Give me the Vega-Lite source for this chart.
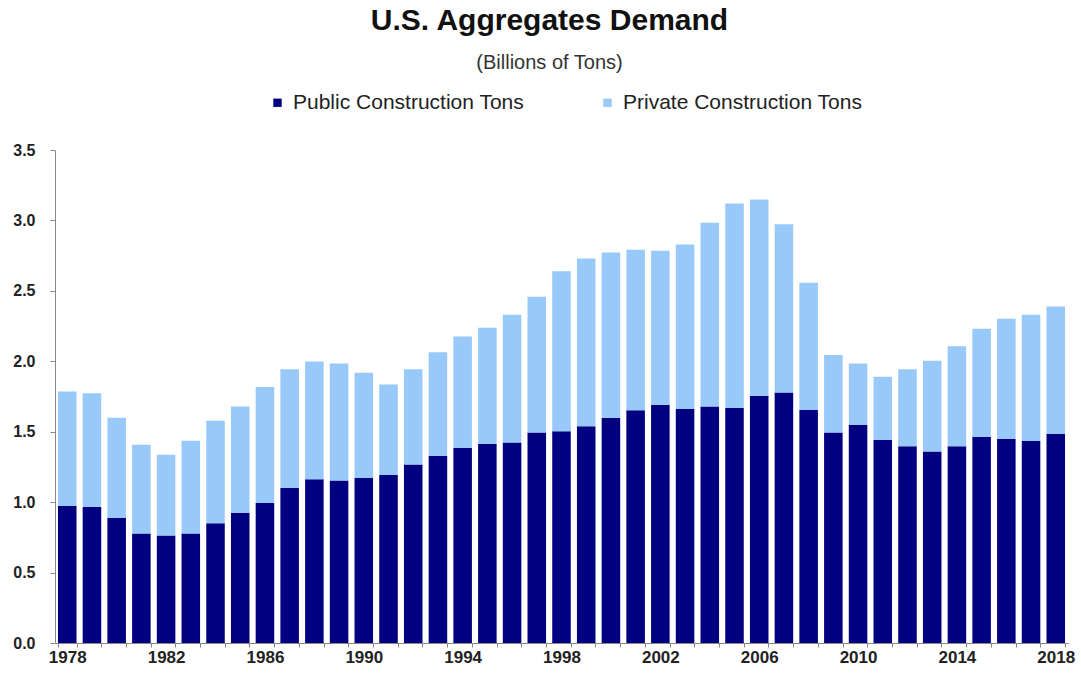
{
  "$schema": "https://vega.github.io/schema/vega-lite/v6.json",
  "width": 1013,
  "height": 493,
  "autosize": "none",
  "padding": {"left": 55, "top": 150, "right": 13, "bottom": 34},
  "background": "white",
  "title": {
    "text": "U.S. Aggregates Demand",
    "subtitle": "(Billions of Tons)",
    "anchor": "middle",
    "dx": -12,
    "font": "Liberation Sans",
    "fontSize": 30,
    "fontWeight": "bold",
    "color": "#111111",
    "subtitleFont": "Liberation Sans",
    "subtitleFontSize": 20,
    "subtitleColor": "#333333",
    "subtitlePadding": 17,
    "offset": 19
  },
  "data": {
    "values": [
      {"year": 1978, "type": "Public Construction Tons", "value": 0.975},
      {"year": 1978, "type": "Private Construction Tons", "value": 0.811},
      {"year": 1979, "type": "Public Construction Tons", "value": 0.965},
      {"year": 1979, "type": "Private Construction Tons", "value": 0.808},
      {"year": 1980, "type": "Public Construction Tons", "value": 0.89},
      {"year": 1980, "type": "Private Construction Tons", "value": 0.71},
      {"year": 1981, "type": "Public Construction Tons", "value": 0.777},
      {"year": 1981, "type": "Private Construction Tons", "value": 0.63},
      {"year": 1982, "type": "Public Construction Tons", "value": 0.764},
      {"year": 1982, "type": "Private Construction Tons", "value": 0.572},
      {"year": 1983, "type": "Public Construction Tons", "value": 0.777},
      {"year": 1983, "type": "Private Construction Tons", "value": 0.658},
      {"year": 1984, "type": "Public Construction Tons", "value": 0.851},
      {"year": 1984, "type": "Private Construction Tons", "value": 0.727},
      {"year": 1985, "type": "Public Construction Tons", "value": 0.925},
      {"year": 1985, "type": "Private Construction Tons", "value": 0.754},
      {"year": 1986, "type": "Public Construction Tons", "value": 0.994},
      {"year": 1986, "type": "Private Construction Tons", "value": 0.824},
      {"year": 1987, "type": "Public Construction Tons", "value": 1.101},
      {"year": 1987, "type": "Private Construction Tons", "value": 0.843},
      {"year": 1988, "type": "Public Construction Tons", "value": 1.163},
      {"year": 1988, "type": "Private Construction Tons", "value": 0.835},
      {"year": 1989, "type": "Public Construction Tons", "value": 1.153},
      {"year": 1989, "type": "Private Construction Tons", "value": 0.831},
      {"year": 1990, "type": "Public Construction Tons", "value": 1.172},
      {"year": 1990, "type": "Private Construction Tons", "value": 0.747},
      {"year": 1991, "type": "Public Construction Tons", "value": 1.192},
      {"year": 1991, "type": "Private Construction Tons", "value": 0.643},
      {"year": 1992, "type": "Public Construction Tons", "value": 1.268},
      {"year": 1992, "type": "Private Construction Tons", "value": 0.676},
      {"year": 1993, "type": "Public Construction Tons", "value": 1.328},
      {"year": 1993, "type": "Private Construction Tons", "value": 0.737},
      {"year": 1994, "type": "Public Construction Tons", "value": 1.387},
      {"year": 1994, "type": "Private Construction Tons", "value": 0.789},
      {"year": 1995, "type": "Public Construction Tons", "value": 1.412},
      {"year": 1995, "type": "Private Construction Tons", "value": 0.826},
      {"year": 1996, "type": "Public Construction Tons", "value": 1.424},
      {"year": 1996, "type": "Private Construction Tons", "value": 0.906},
      {"year": 1997, "type": "Public Construction Tons", "value": 1.494},
      {"year": 1997, "type": "Private Construction Tons", "value": 0.964},
      {"year": 1998, "type": "Public Construction Tons", "value": 1.504},
      {"year": 1998, "type": "Private Construction Tons", "value": 1.135},
      {"year": 1999, "type": "Public Construction Tons", "value": 1.538},
      {"year": 1999, "type": "Private Construction Tons", "value": 1.192},
      {"year": 2000, "type": "Public Construction Tons", "value": 1.598},
      {"year": 2000, "type": "Private Construction Tons", "value": 1.174},
      {"year": 2001, "type": "Public Construction Tons", "value": 1.652},
      {"year": 2001, "type": "Private Construction Tons", "value": 1.14},
      {"year": 2002, "type": "Public Construction Tons", "value": 1.692},
      {"year": 2002, "type": "Private Construction Tons", "value": 1.093},
      {"year": 2003, "type": "Public Construction Tons", "value": 1.662},
      {"year": 2003, "type": "Private Construction Tons", "value": 1.167},
      {"year": 2004, "type": "Public Construction Tons", "value": 1.679},
      {"year": 2004, "type": "Private Construction Tons", "value": 1.304},
      {"year": 2005, "type": "Public Construction Tons", "value": 1.669},
      {"year": 2005, "type": "Private Construction Tons", "value": 1.452},
      {"year": 2006, "type": "Public Construction Tons", "value": 1.756},
      {"year": 2006, "type": "Private Construction Tons", "value": 1.392},
      {"year": 2007, "type": "Public Construction Tons", "value": 1.778},
      {"year": 2007, "type": "Private Construction Tons", "value": 1.195},
      {"year": 2008, "type": "Public Construction Tons", "value": 1.654},
      {"year": 2008, "type": "Private Construction Tons", "value": 0.903},
      {"year": 2009, "type": "Public Construction Tons", "value": 1.494},
      {"year": 2009, "type": "Private Construction Tons", "value": 0.551},
      {"year": 2010, "type": "Public Construction Tons", "value": 1.548},
      {"year": 2010, "type": "Private Construction Tons", "value": 0.436},
      {"year": 2011, "type": "Public Construction Tons", "value": 1.442},
      {"year": 2011, "type": "Private Construction Tons", "value": 0.448},
      {"year": 2012, "type": "Public Construction Tons", "value": 1.397},
      {"year": 2012, "type": "Private Construction Tons", "value": 0.547},
      {"year": 2013, "type": "Public Construction Tons", "value": 1.36},
      {"year": 2013, "type": "Private Construction Tons", "value": 0.643},
      {"year": 2014, "type": "Public Construction Tons", "value": 1.397},
      {"year": 2014, "type": "Private Construction Tons", "value": 0.71},
      {"year": 2015, "type": "Public Construction Tons", "value": 1.462},
      {"year": 2015, "type": "Private Construction Tons", "value": 0.769},
      {"year": 2016, "type": "Public Construction Tons", "value": 1.449},
      {"year": 2016, "type": "Private Construction Tons", "value": 0.853},
      {"year": 2017, "type": "Public Construction Tons", "value": 1.434},
      {"year": 2017, "type": "Private Construction Tons", "value": 0.896},
      {"year": 2018, "type": "Public Construction Tons", "value": 1.486},
      {"year": 2018, "type": "Private Construction Tons", "value": 0.903}
    ]
  },
  "mark": {"type": "bar"},
  "encoding": {
    "x": {
      "field": "year",
      "type": "ordinal",
      "scale": {"paddingInner": 0.25, "paddingOuter": 0.12},
      "axis": {
        "title": null,
        "labelAngle": 0,
        "labelExpr": "(datum.value - 1978) % 4 == 0 ? datum.label : ''",
        "tickBand": "extent",
        "tickSize": 4,
        "tickColor": "#888888",
        "domainColor": "#888888",
        "labelFont": "Liberation Sans",
        "labelFontSize": 17,
        "labelFontWeight": "bold",
        "labelColor": "#222222",
        "labelPadding": 2,
        "labelOverlap": false
      }
    },
    "y": {
      "field": "value",
      "type": "quantitative",
      "stack": "zero",
      "scale": {"domain": [0, 3.5], "nice": false},
      "axis": {
        "title": null,
        "values": [0, 0.5, 1, 1.5, 2, 2.5, 3, 3.5],
        "format": ".1f",
        "grid": false,
        "tickSize": 5,
        "tickColor": "#888888",
        "domainColor": "#888888",
        "labelFont": "Liberation Sans",
        "labelFontSize": 16,
        "labelFontWeight": "bold",
        "labelColor": "#222222",
        "labelPadding": 15
      }
    },
    "color": {
      "field": "type",
      "type": "nominal",
      "scale": {
        "domain": ["Public Construction Tons", "Private Construction Tons"],
        "range": ["#000080", "#99c9f8"]
      },
      "legend": {
        "title": null,
        "orient": "none",
        "legendX": 212,
        "legendY": -58,
        "direction": "horizontal",
        "symbolType": "square",
        "symbolSize": 70,
        "symbolStrokeWidth": 0,
        "labelFont": "Liberation Sans",
        "labelFontSize": 21,
        "labelLimit": 0,
        "labelColor": "#222222",
        "labelOffset": 5,
        "columnPadding": 72
      }
    },
    "order": {"field": "type", "sort": "descending"}
  },
  "config": {"view": {"stroke": null}}
}
